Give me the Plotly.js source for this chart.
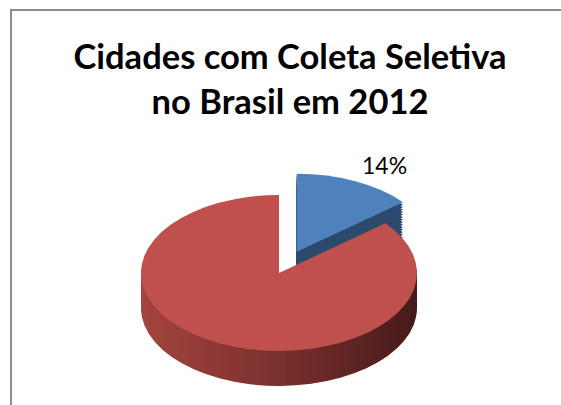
<!DOCTYPE html>
<html>
<head>
<meta charset="utf-8">
<script src="https://cdn.plot.ly/plotly-3.0.1.min.js"></script>
<style>
  html, body { margin: 0; padding: 0; background: #ffffff; }
  #chart { width: 561px; height: 405px; }
</style>
</head>
<body>
<div id="chart"></div>
<script>
// ---- data ----
const categories = ["Com coleta seletiva", "Sem coleta seletiva"];
const shareValues = [14, 86];
const chartTitle = "Cidades com Coleta Seletiva<br>no Brasil em 2012";

// ---- styling ----
const topColors = ["#4f81bd", "#c0504d"];
const sideColors = ["#2c4a6e", "#7d3230"];
const pullAmounts = [0.3, 0];
const squash = 0.565;          // vertical flattening of the disc
const depth = 35;              // thickness of the disc in px
const nLayers = 14;
const centerY = 273;           // desired screen y of top face centre

const domainX = [0.1775, 0.8171];
const domainY = [0.05, 0.936];

const traces = [];
for (let k = nLayers; k >= 0; k--) {
  const isTop = (k === 0);
  traces.push({
    type: "pie",
    labels: categories,
    values: shareValues,
    sort: false,
    direction: "clockwise",
    rotation: 0,
    pull: pullAmounts,
    domain: { x: domainX, y: domainY },
    marker: { colors: isTop ? topColors : sideColors, line: { width: 0 } },
    textinfo: "none",
    hoverinfo: "skip",
    showlegend: false
  });
}

const total = shareValues.reduce((a, b) => a + b, 0);
const firstPct = Math.round(shareValues[0] / total * 100) + "%";

const layout = {
  width: 561,
  height: 405,
  margin: { l: 0, r: 0, t: 0, b: 0 },
  paper_bgcolor: "#ffffff",
  showlegend: false,
  title: {
    text: chartTitle,
    font: { family: "Lato, 'DejaVu Sans', sans-serif", size: 34.5, color: "#000000", weight: "bold" },
    x: 290 / 561, xanchor: "center",
    y: 0.83, yref: "container", yanchor: "middle"
  },
  annotations: [{
    text: firstPct,
    x: 384 / 561, y: 1 - 165 / 405,
    xref: "paper", yref: "paper",
    xanchor: "center", yanchor: "middle",
    showarrow: false,
    font: { family: "Lato, 'DejaVu Sans', sans-serif", size: 23, color: "#000000" }
  }],
  shapes: [{
    type: "rect", xref: "paper", yref: "paper",
    x0: 11 / 561, x1: 1.02, y0: -0.02, y1: 1 - 10 / 405,
    line: { color: "#8c8c8c", width: 2 },
    fillcolor: "rgba(0,0,0,0)"
  }]
};

Plotly.newPlot("chart", traces, layout, { staticPlot: true, displayModeBar: false }).then(gd => {
  const svg = gd.querySelector(".main-svg");
  const NS = "http://www.w3.org/2000/svg";
  let defs = svg.querySelector("defs");
  if (!defs) { defs = document.createElementNS(NS, "defs"); svg.insertBefore(defs, svg.firstChild); }
  const grad = document.createElementNS(NS, "linearGradient");
  grad.setAttribute("id", "sideRedGrad");
  grad.setAttribute("x1", "0"); grad.setAttribute("x2", "1");
  grad.setAttribute("y1", "0"); grad.setAttribute("y2", "0");
  [["0", "#a4433f"], ["0.5", "#7a302e"], ["1", "#461a1a"]].forEach(([o, c]) => {
    const st = document.createElementNS(NS, "stop");
    st.setAttribute("offset", o); st.setAttribute("stop-color", c);
    grad.appendChild(st);
  });
  defs.appendChild(grad);

  const plotH = 405;
  const boxH = plotH * (domainY[1] - domainY[0]);
  const cy = plotH * (1 - domainY[0]) - boxH / 2;
  const groups = gd.querySelectorAll(".pielayer .trace");
  groups.forEach((g, i) => {
    const k = nLayers - i;
    const off = depth * k / nLayers;
    const ty = centerY - squash * cy + off;
    const prev = g.getAttribute("transform") || "";
    g.setAttribute("transform", "translate(0," + ty + ") scale(1," + squash + ") " + prev);
    if (k > 0) {
      const paths = g.querySelectorAll("path.surface");
      if (paths[1]) paths[1].style.fill = "url(#sideRedGrad)";
    }
  });
});
</script>
</body>
</html>
